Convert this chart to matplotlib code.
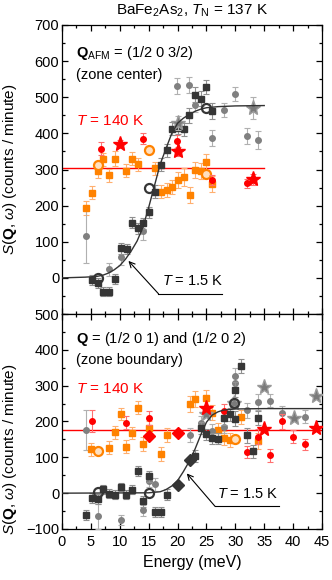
import matplotlib
matplotlib.use("Agg")
import matplotlib.pyplot as plt
from matplotlib.ticker import MultipleLocator

plt.rcParams['font.family'] = ['Liberation Sans', 'DejaVu Sans']
plt.rcParams['mathtext.fontset'] = 'custom'
plt.rcParams['mathtext.rm'] = 'Liberation Sans'
plt.rcParams['mathtext.it'] = 'Liberation Sans:italic'
plt.rcParams['mathtext.bf'] = 'Liberation Sans:bold'

# ---------------- TOP PANEL (zone center) ----------------
top_sq_E = [5.2, 6.2, 7.15, 8.2, 9.2, 10.2, 11.2, 12.1, 13.2, 14.1, 15.1, 16.1, 17.1, 18.1, 19.1, 20.1, 21.1, 22.0, 23.1, 24.1, 25.0, 26.0]
top_sq_S = [-6, -15, -38, -38, -2, 82, 80, 153, 137, 151, 181, 238, 313, 353, 413, 415, 412, 450, 507, 496, 528, 463]
top_sq_err = [14, 14, 12, 12, 14, 15, 15, 15, 15, 15, 15, 18, 18, 18, 18, 18, 18, 20, 20, 20, 20, 22]

top_ci_E = [4.1, 8.2, 10.2, 14.1, 19.9, 22.0, 23.0, 26.0, 28.0, 30.0, 32.0, 34.0]
top_ci_S = [117, 24, 57, 131, 530, 533, 478, 387, 464, 509, 392, 381]
top_ci_err = [75, 18, 20, 25, 22, 22, 20, 22, 20, 20, 22, 25]

top_star_E = [20.0, 33.0]
top_star_S = [428, 470]
top_star_err = [20, 30]

top_ring_E = [6.2, 15.1, 25.0]
top_ring_S = [1, 248, 471]

top_or_E = [4.15, 5.2, 6.2, 7.15, 8.2, 9.1, 11.1, 12.2, 13.2, 16.1, 17.1, 18.1, 19.1, 20.1, 21.05, 22.1, 23.1, 24.1, 25.0, 26.0]
top_or_S = [194, 236, 297, 328, 284, 330, 296, 330, 315, 304, 239, 244, 252, 270, 278, 230, 298, 295, 321, 261]
top_or_err = [20, 18, 20, 18, 18, 20, 18, 18, 18, 18, 18, 20, 20, 22, 25, 22, 22, 22, 22, 22]

top_orring_E = [6.2, 15.0, 25.0]
top_orring_S = [313, 355, 288]

top_red_E = [6.8, 14.1, 19.9, 26.0, 32.0]
top_red_S = [357, 385, 378, 271, 262]
top_red_err = [18, 15, 18, 15, 12]

top_redstar_E = [10.0, 20.0, 33.0]
top_redstar_S = [371, 350, 273]
top_redstar_err = [12, 12, 15]

top_hline = 304
top_hline_E = [0, 35]

top_fit_E = [0, 4, 6, 7, 8, 9, 10, 11, 12, 13, 14, 15, 16, 17, 18, 19, 20, 21, 22, 23, 24, 25, 27, 30, 35]
top_fit_S = [0, 2, 4, 7, 13, 22, 34, 52, 75, 102, 140, 195, 255, 315, 358, 400, 428, 442, 452, 461, 467, 471, 474, 476, 477]

# ---------------- BOTTOM PANEL (zone boundary) ----------------
bot_sq_E = [4.1, 5.2, 6.2, 7.15, 8.1, 9.1, 10.15, 11.1, 12.2, 13.15, 14.1, 15.1, 16.15, 17.1, 18.1, 23.0, 24.0, 25.0, 26.0, 27.05, 28.0, 29.1, 29.9, 30.0, 31.0, 32.1, 33.0, 34.0]
bot_sq_S = [-61, -13, -17, 11, -1, -4, 17, -4, 10, 62, -23, 47, -52, -52, -4, 104, 182, 164, 153, 152, 209, 220, 289, 208, 354, 161, 117, 209]
bot_sq_err = [14, 14, 14, 12, 12, 12, 12, 12, 12, 14, 16, 16, 14, 14, 16, 16, 16, 16, 16, 16, 18, 18, 20, 20, 20, 20, 18, 20]

bot_ci_E = [4.1, 6.2, 10.15, 14.1, 15.1, 16.1, 22.1, 24.0, 26.0, 28.0, 29.9, 29.9, 32.1, 34.0, 36.0, 38.0, 42.0]
bot_ci_S = [176, -64, -76, -48, 34, 25, 163, 196, 174, 186, 328, 307, 231, 255, 258, 223, 213]
bot_ci_err = [55, 35, 14, 16, 16, 18, 20, 18, 18, 18, 20, 20, 20, 22, 18, 20, 18]

bot_star_E = [24.9, 29.8, 35.0, 40.2, 43.9]
bot_star_S = [221, 253, 295, 210, 272]

bot_ring_E = [6.2, 15.1, 29.8]
bot_ring_S = [2, 0, 253]

bot_dia_E = [20.0, 22.1]
bot_dia_S = [22, 92]

bot_or_E = [5.1, 8.2, 9.1, 10.2, 11.1, 12.2, 13.1, 14.1, 15.1, 17.1, 18.1, 22.1, 23.0, 25.0, 26.0, 27.05, 28.0, 29.1, 31.0, 34.0]
bot_or_S = [122, 127, 170, 221, 130, 168, 238, 137, 182, 109, 162, 249, 263, 265, 225, 175, 154, 149, 213, 145]
bot_or_err = [18, 18, 18, 18, 18, 18, 18, 20, 20, 20, 20, 22, 22, 22, 22, 20, 20, 20, 20, 22]

bot_orring_E = [6.2, 30.0]
bot_orring_S = [117, 150]

bot_red_E = [5.2, 11.1, 15.1, 28.0, 32.1, 34.0, 36.0, 38.0, 40.0, 42.0]
bot_red_S = [201, 197, 210, 230, 115, 158, 106, 200, 158, 136]
bot_red_err = [30, 18, 20, 18, 18, 20, 18, 20, 18, 16]

bot_redstar_E = [24.9, 35.0, 43.9]
bot_redstar_S = [237, 179, 183]

bot_reddia_E = [15.1, 20.1]
bot_reddia_S = [160, 167]

bot_hline = 176
bot_hline_E = [0, 45]

bot_fit_E = [0, 15, 17, 18, 19, 20, 21, 22, 23, 24, 25, 26, 27, 28, 30, 35, 45]
bot_fit_S = [0, 1, 4, 10, 20, 35, 60, 88, 122, 162, 198, 218, 227, 232, 235, 236, 236]

DARK = '#363636'
GRAY = '#808080'
ORANGE = '#ff8200'
RED = '#ff0000'

fig = plt.figure(figsize=(3.32, 5.80), dpi=100)
L, R = 62/332, 322/332
ax1 = fig.add_axes([L, 1-314/580, R-L, (314-25)/580])
ax2 = fig.add_axes([L, 1-529/580, R-L, (529-314)/580])

eb = dict(capsize=2, elinewidth=0.8, capthick=0.8, linestyle='none')

def panel(ax, sq, ci, stars, rings, ors, orrings, reds, redstars, hline, hlineE, fitE, fitS):
    ax.plot(hlineE, [hline, hline], color=RED, lw=1.0, zorder=2)
    ax.errorbar(ors[0], ors[1], yerr=ors[2], fmt='s', ms=3.8, color=ORANGE,
                ecolor='#ffb070', zorder=3, **eb)
    ax.plot(orrings[0], orrings[1], 'o', ms=6.5, mfc='#ffe0c0', mec=ORANGE, mew=1.6, zorder=4)
    ax.errorbar(reds[0], reds[1], yerr=reds[2], fmt='o', ms=4, color=RED,
                ecolor='#ff7070', zorder=4, **eb)
    ax.errorbar(ci[0], ci[1], yerr=ci[2], fmt='o', ms=4, color=GRAY,
                ecolor='#b0b0b0', zorder=3, **eb)
    ax.errorbar(sq[0], sq[1], yerr=sq[2], fmt='s', ms=3.8, color=DARK,
                ecolor='#909090', zorder=4, **eb)
    if len(stars) == 3:
        ax.errorbar(stars[0], stars[1], yerr=stars[2], fmt='*', ms=11, color='#7a7a7a',
                    mec='#9a9a9a', ecolor='#b0b0b0', zorder=5, **eb)
    else:
        ax.plot(stars[0], stars[1], '*', ms=11, color='#7a7a7a', mec='#9a9a9a', zorder=5, linestyle='none')
    ax.plot(rings[0], rings[1], 'o', ms=6.5, mfc='none', mec=DARK, mew=1.6, zorder=6)
    if len(redstars) == 3:
        ax.errorbar(redstars[0], redstars[1], yerr=redstars[2], fmt='*', ms=11, color=RED,
                    ecolor='#ff7070', zorder=6, **eb)
    else:
        ax.plot(redstars[0], redstars[1], '*', ms=11, color=RED, zorder=6, linestyle='none')
    ax.plot(fitE, fitS, color='#333333', lw=1.0, zorder=7)
    ax.set_xlim(0, 45)
    ax.xaxis.set_major_locator(MultipleLocator(5))
    ax.xaxis.set_minor_locator(MultipleLocator(2.5))
    ax.yaxis.set_major_locator(MultipleLocator(100))
    ax.yaxis.set_minor_locator(MultipleLocator(50))
    ax.tick_params(which='both', direction='in', top=True, right=True, labelsize=10.5)
    ax.tick_params(which='major', length=4, width=0.9)
    ax.tick_params(which='minor', length=2, width=0.9)
    ax.tick_params(axis='y', pad=2)
    ax.tick_params(axis='x', pad=4)
    for s in ax.spines.values():
        s.set_linewidth(0.9)

panel(ax1, (top_sq_E, top_sq_S, top_sq_err), (top_ci_E, top_ci_S, top_ci_err),
      (top_star_E, top_star_S, top_star_err), (top_ring_E, top_ring_S),
      (top_or_E, top_or_S, top_or_err), (top_orring_E, top_orring_S),
      (top_red_E, top_red_S, top_red_err), (top_redstar_E, top_redstar_S, top_redstar_err),
      top_hline, top_hline_E, top_fit_E, top_fit_S)
panel(ax2, (bot_sq_E, bot_sq_S, bot_sq_err), (bot_ci_E, bot_ci_S, bot_ci_err),
      (bot_star_E, bot_star_S), (bot_ring_E, bot_ring_S),
      (bot_or_E, bot_or_S, bot_or_err), (bot_orring_E, bot_orring_S),
      (bot_red_E, bot_red_S, bot_red_err), (bot_redstar_E, bot_redstar_S),
      bot_hline, bot_hline_E, bot_fit_E, bot_fit_S)
ax2.plot(bot_dia_E, bot_dia_S, 'D', ms=6, color=DARK, zorder=6, linestyle='none')
ax2.plot(bot_reddia_E, bot_reddia_S, 'D', ms=6, color=RED, zorder=6, linestyle='none')

ax1.set_ylim(-100, 700)
ax1.set_yticks(range(0, 701, 100))
ax1.tick_params(labelbottom=False)
ax2.set_ylim(-100, 500)
ax2.set_yticks(range(-100, 501, 100))
ax2.set_xticks(range(0, 46, 5))
ax2.set_xlabel('Energy (meV)', fontsize=11.5, labelpad=5)

ylab = r'$S$($\mathbf{Q}$, $\omega$) (counts / minute)'
ax1.set_ylabel(ylab, fontsize=11)
ax2.set_ylabel(ylab, fontsize=11)
ax1.yaxis.set_label_coords(-0.165, 0.5)
ax2.yaxis.set_label_coords(-0.165, 0.37)

fig.text(192/332, 1-11/580, r'BaFe$_2$As$_2$, $T_{\rm N}$ = 137 K', ha='center', va='center', fontsize=11)

# text annotations top
ax1.text(2.5, 623, r'$\mathbf{Q}_{\rm AFM}$ = (1/2 0 3/2)', fontsize=10.5, va='center', ha='left')
ax1.text(2.5, 562, '(zone center)', fontsize=10.5, va='center', ha='left')
ax1.text(2.5, 433, r'$T$ = 140 K', fontsize=11, va='center', ha='left', color=RED)
ax1.text(22.6, -10, r'$T$ = 1.5 K', fontsize=10.5, va='center', ha='center')
ax1.plot([16.7, 27.7], [-44, -44], color='black', lw=0.8)
ax1.annotate('', xy=(11.5, 47), xytext=(16.7, -44),
             arrowprops=dict(arrowstyle='->', lw=0.8, color='black', shrinkA=0, shrinkB=0))

# bottom
ax2.text(2.5, 430, r'$\mathbf{Q}$ = (1/2 0 1) and (1/2 0 2)', fontsize=10.5, va='center', ha='left')
ax2.text(2.5, 371, '(zone boundary)', fontsize=10.5, va='center', ha='left')
ax2.text(2.5, 290, r'$T$ = 140 K', fontsize=11, va='center', ha='left', color=RED)
ax2.text(32.2, -3, r'$T$ = 1.5 K', fontsize=10.5, va='center', ha='center')
ax2.plot([26.5, 37.6], [-37, -37], color='black', lw=0.8)
ax2.annotate('', xy=(21.6, 55), xytext=(26.5, -37),
             arrowprops=dict(arrowstyle='->', lw=0.8, color='black', shrinkA=0, shrinkB=0))

fig.savefig('out.png', dpi=100)
